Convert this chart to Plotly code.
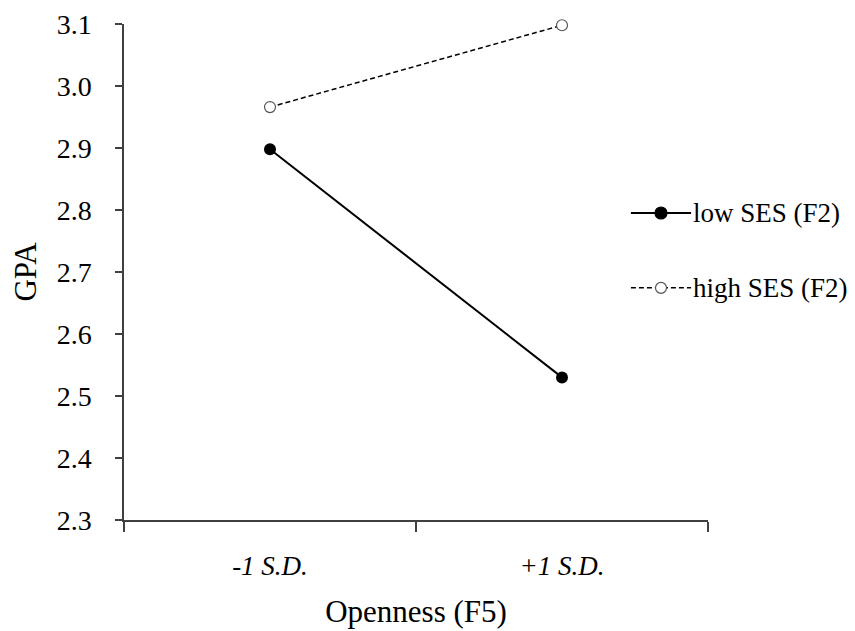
import plotly.graph_objects as go

categories = ["-1 S.D.", "+1 S.D."]
tick_labels = ["<i>-1 S.D.</i>", "<i>+1 S.D.</i>"]
low_ses = [2.898, 2.530]
high_ses = [2.966, 3.098]
series_names = ["low SES (F2)", "high SES (F2)"]

FONT = "Liberation Serif"
FS = 27
TITLE_FS = 31

fig = go.Figure()
fig.add_trace(go.Scatter(
    x=categories, y=low_ses, name=series_names[0], mode="lines+markers",
    line=dict(color="black", width=2),
    marker=dict(symbol="circle", size=12, color="black"),
    cliponaxis=False,
))
fig.add_trace(go.Scatter(
    x=categories, y=high_ses, name=series_names[1], mode="lines+markers",
    line=dict(color="black", width=1.5, dash="5px,3px"),
    marker=dict(symbol="circle", size=11, color="white", line=dict(color="#555555", width=1.2)),
    cliponaxis=False,
))

# manual legend (paper coordinates)
legend_rows = [
    dict(name=series_names[0], y=0.619, dash="solid", width=2, fill="black", outline="black", r=6),
    dict(name=series_names[1], y=0.468, dash="5px,3px", width=1.5, fill="white", outline="#555555", r=5.5),
]
shapes = []
annotations = []
for row in legend_rows:
    shapes.append(dict(type="line", xref="paper", yref="paper",
                       x0=0.868, x1=0.971, y0=row["y"], y1=row["y"],
                       line=dict(color="black", width=row["width"], dash=row["dash"])))
    shapes.append(dict(type="circle", xref="paper", yref="paper",
                       xsizemode="pixel", ysizemode="pixel",
                       xanchor=0.9195, yanchor=row["y"],
                       x0=-row["r"], x1=row["r"], y0=-row["r"], y1=row["r"],
                       fillcolor=row["fill"], line=dict(color=row["outline"], width=1.2)))
    annotations.append(dict(x=0.979, y=row["y"], xref="paper", yref="paper", xshift=-5,
                            text=row["name"], showarrow=False, xanchor="left", yanchor="middle",
                            font=dict(family=FONT, size=FS, color="black")))

fig.update_layout(
    width=855, height=631,
    margin=dict(l=116, r=155, t=16, b=119, autoexpand=False),
    paper_bgcolor="white", plot_bgcolor="white",
    font=dict(family=FONT, size=FS, color="black"),
    showlegend=False,
    shapes=shapes, annotations=annotations,
    xaxis=dict(
        type="category", categoryorder="array", categoryarray=categories,
        tickvals=categories, ticktext=tick_labels,
        range=[-0.5, 1.5], tickson="boundaries",
        showline=True, linecolor="#404040", linewidth=1.5,
        ticks="outside", ticklen=10, tickcolor="#404040", tickwidth=1.5,
        showgrid=False, zeroline=False,
        tickfont=dict(family=FONT, size=FS),
        ticklabelstandoff=21,
        title=dict(text="Openness (F5)", font=dict(family=FONT, size=TITLE_FS), standoff=20),
    ),
    yaxis=dict(
        range=[2.3, 3.1], dtick=0.1, tick0=2.3, tickformat=".1f",
        showline=True, linecolor="#404040", linewidth=1.5,
        ticks="outside", ticklen=7, tickcolor="#404040", tickwidth=1.5,
        showgrid=False, zeroline=False,
        tickfont=dict(family=FONT, size=28),
        ticklabelstandoff=18,
        title=dict(text="GPA", font=dict(family=FONT, size=TITLE_FS), standoff=20),
    ),
)

fig.write_html("out.html")
